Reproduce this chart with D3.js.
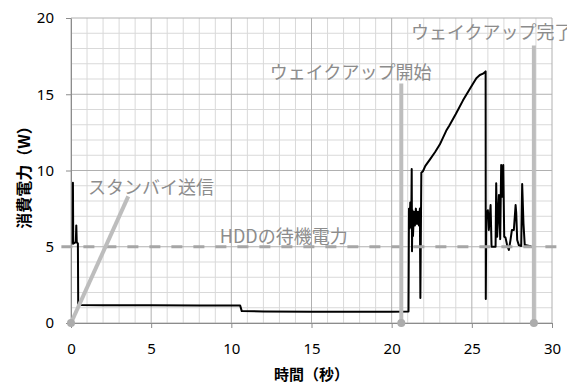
<!DOCTYPE html>
<html>
<head>
<meta charset="utf-8">
<script src="https://cdn.jsdelivr.net/npm/d3@7"></script>
<style>
  body { margin: 0; background: #fff; }
  svg { display: block; }
</style>
</head>
<body>
<div id="chart"></div>
<script>
// time (s) and power (W)
const times = [
  0.08, 0.11, 0.12, 0.14, 0.30, 0.33, 0.36, 0.43, 0.45, 0.6, 2, 5, 8, 10.55,
  10.65, 12, 15, 18, 20, 21.05,
  21.08, 21.12, 21.16, 21.2, 21.23, 21.25, 21.27, 21.29, 21.33, 21.39, 21.45,
  21.51, 21.58, 21.64, 21.7, 21.76, 21.79, 21.85,
  21.95, 22.1, 22.37, 22.7, 23.0, 23.4, 23.6, 24.0, 24.45, 24.9, 25.28, 25.5,
  25.7, 25.86, 25.87, 25.9,
  26.0, 26.06, 26.17, 26.23, 26.31, 26.48, 26.52, 26.58, 26.69, 26.77, 26.83,
  26.9, 26.96, 27.02, 27.1, 27.2, 27.31, 27.41, 27.5, 27.62, 27.73, 27.77,
  27.83, 27.93, 28.08, 28.14, 28.22, 28.3, 28.6, 28.7
];
const power = [
  5.2, 5.2, 9.2, 5.2, 5.3, 6.4, 5.3, 5.2, 1.25, 1.18, 1.17, 1.16, 1.15, 1.15,
  0.78, 0.76, 0.74, 0.74, 0.73, 0.75,
  7.5, 6.2, 7.9, 6.3, 7.6, 10.1, 4.7, 7.4, 5.7, 7.3, 6.4,
  7.5, 6.5, 7.3, 6.4, 7.5, 1.64, 9.85,
  9.95, 10.3, 10.7, 11.2, 11.7, 12.6, 12.95, 13.7, 14.6, 15.4, 16.05, 16.26,
  16.35, 16.5, 1.57, 7.0,
  7.4, 6.1, 7.74, 5.0, 5.0, 5.0, 9.16, 5.66, 8.39, 5.5, 10.36,
  8.28, 10.36, 5.66, 5.6, 5.11, 4.79, 5.44, 6.1, 6.1, 7.74, 7.2,
  5.44, 5.11, 5.05, 9.11, 6.54, 5.11, 5.05, 5.05
];

const xTicks = [0, 5, 10, 15, 20, 25, 30];
const yTicks = [0, 5, 10, 15, 20];
const hddStandby = 5;

// annotation callouts: [x, y] where the pointer ends
const standbyPointer = [[0, 0], [3.57, 8.3]];
const wakeStartPointer = [[20.6, 0], [20.6, 15.7]];
const wakeDonePointer = [[28.87, 0], [28.87, 18.2]];

const config = { width: 567, height: 383, left: 71, top: 18, right: 15, bottom: 60 };
const w = config.width - config.left - config.right;
const h = config.height - config.top - config.bottom;

const svg = d3.select("#chart").append("svg")
  .attr("width", config.width)
  .attr("height", config.height);

const g = svg.append("g")
  .attr("transform", `translate(${config.left},${config.top})`);

const x = d3.scaleLinear().domain([0, 30]).range([0, w]);
const y = d3.scaleLinear().domain([0, 20]).range([h, 0]);

// minor grid every 1 unit, major every 5
const minorX = d3.range(0, 31);
const minorY = d3.range(0, 21);

g.append("g").selectAll("line").data(minorX.filter(d => d % 5)).join("line")
  .attr("x1", d => x(d)).attr("x2", d => x(d))
  .attr("y1", 0).attr("y2", h)
  .attr("stroke", "#d9d9d9").attr("stroke-width", 1);
g.append("g").selectAll("line").data(minorY.filter(d => d % 5)).join("line")
  .attr("y1", d => y(d)).attr("y2", d => y(d))
  .attr("x1", 0).attr("x2", w)
  .attr("stroke", "#d9d9d9").attr("stroke-width", 1);
g.append("g").selectAll("line").data(xTicks).join("line")
  .attr("x1", d => x(d)).attr("x2", d => x(d))
  .attr("y1", 0).attr("y2", h)
  .attr("stroke", "#b0b0b0").attr("stroke-width", 1);
g.append("g").selectAll("line").data(yTicks).join("line")
  .attr("y1", d => y(d)).attr("y2", d => y(d))
  .attr("x1", 0).attr("x2", w)
  .attr("stroke", "#b0b0b0").attr("stroke-width", 1);

const xAxis = g.append("g")
  .attr("transform", `translate(0,${h})`)
  .call(d3.axisBottom(x).tickValues(xTicks).tickSize(5).tickPadding(15).tickSizeOuter(0));
const yAxis = g.append("g")
  .call(d3.axisLeft(y).tickValues(yTicks).tickSize(5).tickPadding(12).tickSizeOuter(0));

[xAxis, yAxis].forEach(a => {
  a.select(".domain").attr("stroke", "#8c8c8c");
  a.selectAll(".tick line").attr("stroke", "#8c8c8c");
  a.selectAll("text")
    .attr("font-family", "'Noto Sans', sans-serif")
    .attr("font-size", 15)
    .attr("fill", "#000");
});

// the measured trace
g.append("path")
  .datum(times.map((t, i) => [t, power[i]]))
  .attr("fill", "none")
  .attr("stroke", "#000")
  .attr("stroke-width", 2)
  .attr("stroke-linejoin", "round")
  .attr("d", d3.line().x(d => x(d[0])).y(d => y(d[1])));

// HDD standby reference
g.append("line")
  .attr("x1", x(-0.6)).attr("x2", x(31))
  .attr("y1", y(hddStandby)).attr("y2", y(hddStandby))
  .attr("stroke", "#a6a6a6")
  .attr("stroke-width", 3)
  .attr("stroke-dasharray", "11,11");

// callout pointers
const pointer = d3.line().x(d => x(d[0])).y(d => y(d[1]));
[standbyPointer, wakeStartPointer, wakeDonePointer].forEach(p => {
  g.append("path")
    .attr("d", pointer(p))
    .attr("stroke", "#bdbdbd")
    .attr("stroke-width", 4)
    .attr("fill", "none");
  g.append("circle")
    .attr("cx", x(p[0][0])).attr("cy", y(p[0][1]))
    .attr("r", 4)
    .attr("fill", "#acacac");
});

const labelFont = "'Noto Sans CJK JP', sans-serif";
const callouts = [
  { text: "スタンバイ送信", tx: 1.06, ty: 9.0 },
  { text: "HDDの待機電力", tx: 9.28, ty: 5.8 },
  { text: "ウェイクアップ開始", tx: 12.4, ty: 16.5 },
  { text: "ウェイクアップ完了", tx: 21.2, ty: 19.15 }
];
g.selectAll(".callout").data(callouts).join("text")
  .attr("class", "callout")
  .attr("x", d => x(d.tx))
  .attr("y", d => y(d.ty))
  .attr("dominant-baseline", "central")
  .attr("font-family", labelFont)
  .attr("font-size", 18)
  .attr("fill", "#8c8c8c")
  .text(d => d.text);

// axis titles
svg.append("text")
  .attr("x", config.left + w / 2)
  .attr("y", 373)
  .attr("text-anchor", "middle")
  .attr("dominant-baseline", "central")
  .attr("font-family", labelFont)
  .attr("font-weight", "bold")
  .attr("font-size", 15)
  .text("時間（秒）");

svg.append("text")
  .attr("transform", `translate(23,${config.top + h / 2 + 3}) rotate(-90)`)
  .attr("text-anchor", "middle")
  .attr("dominant-baseline", "central")
  .attr("font-family", labelFont)
  .attr("font-weight", "bold")
  .attr("font-size", 16)
  .text("消費電力（W）");
</script>
</body>
</html>
